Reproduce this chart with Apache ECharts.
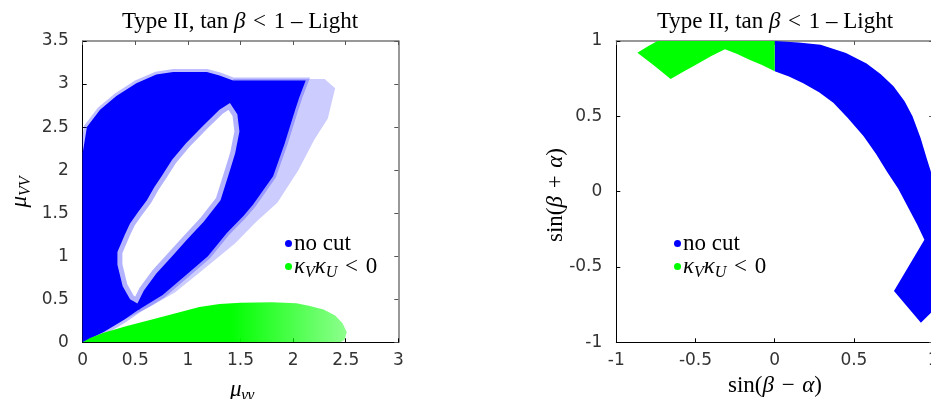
<!DOCTYPE html>
<html><head><meta charset="utf-8">
<script src="https://cdn.jsdelivr.net/npm/echarts@6/dist/echarts.min.js"></script>
<style>html,body{margin:0;padding:0;background:#fff}#c{width:931px;height:399px}</style>
</head><body><div id="c"></div>
<script>
// ---------- data ----------
const leftXTicks = [0, 0.5, 1, 1.5, 2, 2.5, 3];
const leftYTicks = [0, 0.5, 1, 1.5, 2, 2.5, 3, 3.5];
const rightXTicks = [-1, -0.5, 0, 0.5, 1];
const rightYTicks = [-1, -0.5, 0, 0.5, 1];
const legendNames = ['no cut', 'kappa'];

// left panel: mu_gammagamma vs mu_VV, point-cloud outlines
const leftBlueOuter = [[0,0],[0,2.2],[0.04,2.5],[0.165,2.7],[0.32,2.86],[0.51,3.01],[0.70,3.11],[0.86,3.14],[1.18,3.14],[1.30,3.10],[1.43,3.04],[2.12,3.04],[2.06,2.85],[2.02,2.70],[1.92,2.31],[1.81,1.93],[1.62,1.60],[1.53,1.47],[1.37,1.27],[1.19,1.0],[0.98,0.78],[0.76,0.55],[0.52,0.37],[0.39,0.26],[0.2,0.12]];
const leftBlueFringe = [[1.43,3.06],[2.3,3.06],[2.4,2.95],[2.33,2.6],[2.2,2.35],[2.05,2.0],[1.85,1.62],[1.65,1.4],[1.45,1.15],[1.3,1.0],[1.1,0.8],[0.88,0.58],[0.65,0.42],[0.5,0.33],[0.39,0.26]];
const leftBlueHole = [[1.40,2.78],[1.47,2.65],[1.49,2.45],[1.45,2.2],[1.40,2.0],[1.31,1.65],[1.15,1.40],[0.99,1.19],[0.85,1.0],[0.70,0.80],[0.58,0.60],[0.52,0.45],[0.45,0.5],[0.38,0.65],[0.33,0.9],[0.33,1.05],[0.40,1.25],[0.45,1.38],[0.53,1.52],[0.61,1.65],[0.68,1.80],[0.75,1.93],[0.85,2.12],[0.98,2.31],[1.14,2.51],[1.30,2.70]];
const leftGreen = [[0,0],[0.07,0.05],[0.2,0.11],[0.42,0.19],[0.64,0.26],[0.92,0.35],[1.11,0.41],[1.3,0.445],[1.5,0.46],[1.8,0.465],[2.03,0.455],[2.15,0.425],[2.29,0.38],[2.40,0.31],[2.47,0.22],[2.51,0.12],[2.49,0.03],[2.45,0]];

// right panel: sin(beta-alpha) vs sin(beta+alpha)
const rightBlue = [[0,1.0],[0.15,0.99],[0.29,0.975],[0.45,0.92],[0.58,0.85],[0.67,0.78],[0.75,0.70],[0.82,0.60],[0.87,0.50],[0.92,0.36],[0.96,0.22],[0.99,0.12],[1.02,0.0],[1.04,-0.3],[1.04,-0.7],[0.99,-0.80],[0.923,-0.87],[0.753,-0.66],[0.945,-0.32],[0.90,-0.22],[0.84,-0.10],[0.78,0.02],[0.71,0.13],[0.64,0.25],[0.56,0.37],[0.46,0.49],[0.37,0.59],[0.28,0.66],[0.18,0.72],[0.09,0.765],[0,0.80]];
const rightGreen = [[-0.867,0.922],[-0.80,0.965],[-0.74,1.0],[0,1.0],[0,0.80],[-0.08,0.84],[-0.156,0.874],[-0.24,0.915],[-0.314,0.945],[-0.40,0.90],[-0.50,0.84],[-0.58,0.795],[-0.657,0.748],[-0.76,0.835]];

// ---------- styling ----------
const BLUE = '#0000ff', GREEN = '#00ff00';
const SERIF = 'Liberation Serif';
const TS = '\u2004'; // three-per-em space (math spacing)
function mkRich(fs, sub) {
  return {
    r: {fontFamily: SERIF, fontSize: fs, color: '#000', lineHeight: fs + 5},
    i: {fontFamily: SERIF, fontSize: fs, fontStyle: 'italic', color: '#000', lineHeight: fs + 5},
    s: {fontFamily: SERIF, fontSize: sub, fontStyle: 'italic', color: '#000', verticalAlign: 'bottom'}
  };
}
const richTitle = mkRich(23, 15);
const richLab = mkRich(23, 16);

const chart = echarts.init(document.getElementById('c'), null, {renderer: 'canvas'});

function polySeries(name, gi, poly, styleFn, z, color) {
  return {
    type: 'custom', name: name, xAxisIndex: gi * 2, yAxisIndex: gi * 2,
    data: poly, clip: true, z: z, silent: true, animation: false,
    itemStyle: {color: color},
    renderItem: function (params, api) {
      if (params.dataIndex !== 0) return null;
      const pts = poly.map(p => api.coord(p));
      return {type: 'polygon', shape: {points: pts}, style: styleFn(api)};
    }
  };
}

function axisPair(ticks, gi, isX) {
  const min = ticks[0], max = ticks[ticks.length - 1], interval = ticks[1] - ticks[0];
  const base = {
    type: 'value', gridIndex: gi, min: min, max: max, interval: interval,
    splitLine: {show: false},
    axisTick: {show: true, inside: true, length: 4, lineStyle: {color: '#000', width: 1}}
  };
  const main = Object.assign({}, base, {
    position: isX ? 'bottom' : 'left',
    axisLine: {show: true, onZero: false, lineStyle: {color: '#000', width: 1}},
    axisLabel: {color: '#333', fontSize: 17, fontFamily: 'DejaVu Sans', margin: isX ? 10 : 14}
  });
  const mirror = Object.assign({}, base, {
    position: isX ? 'top' : 'right',
    axisLine: {show: true, onZero: false, lineStyle: {color: '#777', width: 1.5}},
    axisTick: {show: true, inside: true, length: 4, lineStyle: {color: '#555', width: 1}},
    axisLabel: {show: false}
  });
  return [main, mirror];
}

function legendFmt(n) {
  return n === 'no cut' ? '{r|no cut}' : '{i|κ}{s|V}{i|κ}{s|U}{r|' + TS + '<' + TS + '0}';
}
function legendBox(left, top) {
  return {
    left: left, top: top, orient: 'vertical', itemGap: 0, itemWidth: 7, itemHeight: 7,
    selectedMode: false,
    data: [
      {name: legendNames[0], icon: 'circle', itemStyle: {color: BLUE}},
      {name: legendNames[1], icon: 'circle', itemStyle: {color: GREEN}}
    ],
    formatter: legendFmt,
    textStyle: {rich: richLab, padding: [0, 0, 0, -3]}
  };
}

const titleText = '{r|Type II, tan }{i|β}{r|' + TS + '<' + TS + '1 – Light}';
const option = {
  backgroundColor: '#fff',
  animation: false,
  grid: [
    {left: 82.7, top: 41, width: 315.6, height: 301.3, outerBoundsMode: 'none', containLabel: false},
    {left: 616.3, top: 41, width: 316.8, height: 301.3, outerBoundsMode: 'none', containLabel: false}
  ],
  xAxis: [].concat(axisPair(leftXTicks, 0, true), axisPair(rightXTicks, 1, true)),
  yAxis: [].concat(axisPair(leftYTicks, 0, false), axisPair(rightYTicks, 1, false)),
  legend: [legendBox(280, 227), legendBox(669, 227)],
  series: [
    polySeries(null, 0, leftBlueFringe, () => ({fill: 'rgba(0,0,255,0.2)'}), 2, BLUE),
    polySeries(legendNames[0], 0, leftBlueOuter, () => ({fill: BLUE, stroke: 'rgba(0,0,255,0.25)', lineWidth: 6}), 3, BLUE),
    polySeries(null, 0, leftBlueHole, () => ({fill: '#fff', stroke: 'rgba(0,0,255,0.3)', lineWidth: 10}), 4, BLUE),
    polySeries(legendNames[1], 0, leftGreen, function (api) {
      const g0 = api.coord([1.4, 0])[0], g1 = api.coord([2.5, 0])[0];
      return {fill: new echarts.graphic.LinearGradient(g0, 0, g1, 0,
        [{offset: 0, color: GREEN}, {offset: 1, color: 'rgba(0,255,0,0.45)'}], true)};
    }, 5, GREEN),
    polySeries(legendNames[0], 1, rightBlue, () => ({fill: BLUE}), 3, BLUE),
    polySeries(legendNames[1], 1, rightGreen, () => ({fill: GREEN}), 4, GREEN)
  ],
  graphic: [
    {type: 'text', x: 240, y: 22, style: {text: titleText, rich: richTitle, align: 'center', verticalAlign: 'middle'}},
    {type: 'text', x: 775, y: 22, style: {text: titleText, rich: richTitle, align: 'center', verticalAlign: 'middle'}},
    {type: 'text', x: 20, y: 192, rotation: Math.PI / 2, style: {text: '{i|μ}{s|VV}', rich: richLab, align: 'center', verticalAlign: 'middle'}},
    {type: 'text', x: 242, y: 390, style: {text: '{i|μ}{s|γγ}', rich: richLab, align: 'center', verticalAlign: 'middle'}},
    {type: 'text', x: 775, y: 386, style: {text: '{r|sin(}{i|β}{r|' + TS + '−' + TS + '}{i|α}{r|)}', rich: richLab, align: 'center', verticalAlign: 'middle'}},
    {type: 'text', x: 556, y: 195, rotation: Math.PI / 2, style: {text: '{r|sin(}{i|β}{r|' + TS + '+' + TS + '}{i|α}{r|)}', rich: richLab, align: 'center', verticalAlign: 'middle'}}
  ]
};
chart.setOption(option);
</script></body></html>
